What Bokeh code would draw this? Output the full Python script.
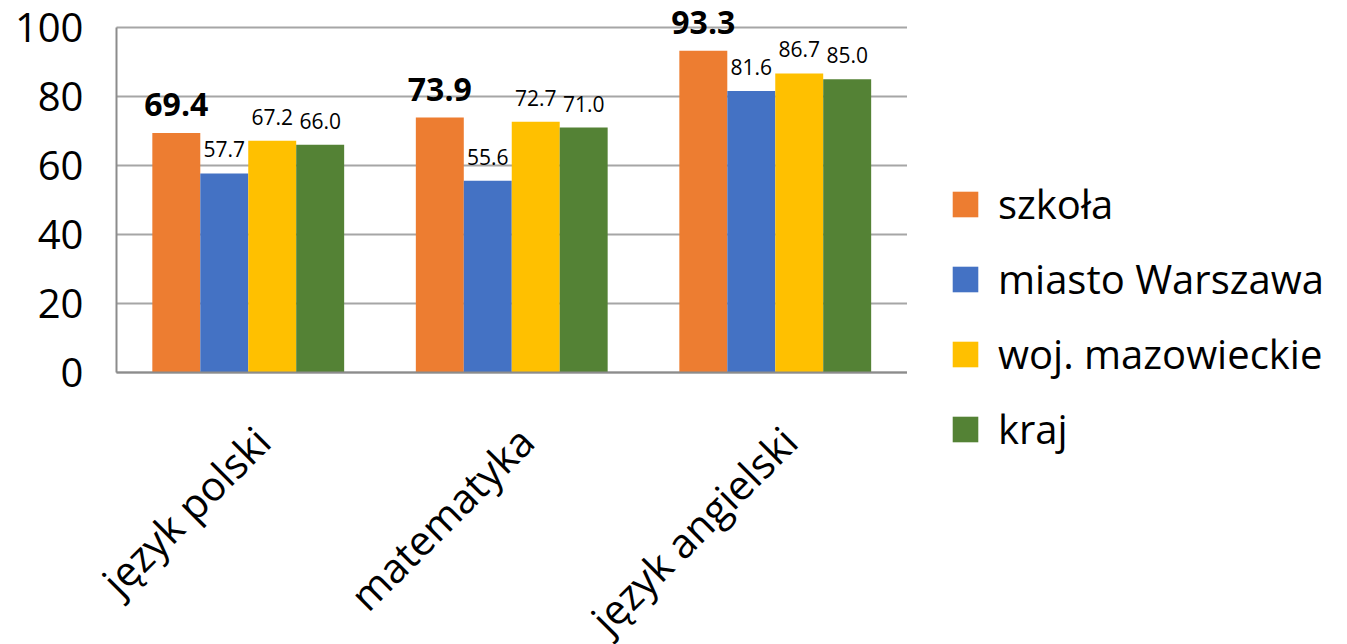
import math
from bokeh.plotting import figure
from bokeh.models import ColumnDataSource, Legend, LegendItem, LabelSet, Range1d
from bokeh.core.properties import value
from bokeh.transform import dodge
from bokeh.embed import file_html
from bokeh.resources import INLINE

categories = ["język polski", "matematyka", "język angielski"]
series_names = ["szkoła", "miasto Warszawa", "woj. mazowieckie", "kraj"]
szkola = [69.4, 73.9, 93.3]
warszawa = [57.7, 55.6, 81.6]
mazowieckie = [67.2, 72.7, 86.7]
kraj = [66.0, 71.0, 85.0]
y_ticks = [0, 20, 40, 60, 80, 100]
y_tick_labels = ["0", "20", "40", "60", "80", "100"]

colors = ["#ED7D31", "#4472C4", "#FFC000", "#548235"]
offsets = [-0.273, -0.091, 0.091, 0.273]
FONT = "Open Sans"
GRID = "#A6A6A6"
AXIS = "#8C8C8C"

n = len(categories)
data = {"cat": categories, "xc": [i + 0.5 for i in range(n)], "y0": [0] * n,
        "s0": szkola, "s1": warszawa, "s2": mazowieckie, "s3": kraj}
for i, vals in enumerate([szkola, warszawa, mazowieckie, kraj]):
    data[f"t{i}"] = [f"{v:.1f}" for v in vals]
source = ColumnDataSource(data)
tick_source = ColumnDataSource({"x": [0] * len(y_ticks), "y": y_ticks, "t": y_tick_labels})

# plotting area covers the whole canvas; category band starts at 116 px, 263.5 px per category,
# value axis: 0 at 372 px, 3.45 px per unit
p = figure(x_range=Range1d(-0.4402, 4.6717), y_range=Range1d(-78.84, 107.83),
           width=1347, height=644, output_backend="svg", toolbar_location=None,
           x_axis_location=None, y_axis_location=None,
           min_border_left=0, min_border_right=0, min_border_top=0, min_border_bottom=0)
p.outline_line_color = None
p.background_fill_color = "white"
p.xgrid.visible = False
p.ygrid.visible = False

# horizontal gridlines across the category area
p.segment(x0=[0] * len(y_ticks), x1=[n] * len(y_ticks), y0=y_ticks, y1=y_ticks,
          line_color=GRID, line_width=2)

renderers = []
for i in range(4):
    r = p.vbar(x=dodge("xc", offsets[i]), top=f"s{i}", bottom=0, width=0.182,
               source=source, fill_color=colors[i], line_color=None)
    renderers.append(r)
    if i == 0:
        lab = LabelSet(x=dodge("xc", offsets[i]), y=f"s{i}", text=f"t{i}",
                       source=source, text_align="center", text_baseline="bottom",
                       y_offset=17, text_font=value(FONT), text_font_size="32px",
                       text_font_style="bold", text_color="black")
    else:
        lab = LabelSet(x=dodge("xc", offsets[i]), y=f"s{i}", text=f"t{i}",
                       source=source, text_align="center", text_baseline="bottom",
                       y_offset=16, text_font=value(FONT), text_font_size="21px", text_color="black")
    p.add_layout(lab)

# axis lines
p.segment(x0=[0], x1=[n], y0=[0], y1=[0], line_color=AXIS, line_width=2)
p.segment(x0=[0], x1=[0], y0=[y_ticks[0]], y1=[y_ticks[-1]], line_color=AXIS, line_width=2)

# value tick labels
p.add_layout(LabelSet(x="x", y="y", text="t", source=tick_source, text_align="right",
                      text_baseline="middle", x_offset=-33, text_font=value(FONT),
                      text_font_size="40px", text_color="black"))

# category labels, rotated 45 degrees
p.add_layout(LabelSet(x="xc", y="y0", text="cat", source=source, angle=math.pi / 4,
                      text_align="right", text_baseline="middle", x_offset=14, y_offset=-61,
                      text_font=value(FONT), text_font_size="41px", text_color="black"))

legend = Legend(items=[LegendItem(label=series_names[i], renderers=[renderers[i]]) for i in range(4)],
                location=(949, 188), glyph_width=32, glyph_height=32, label_standoff=17,
                spacing=20, padding=0, margin=0, border_line_color=None,
                background_fill_alpha=0, label_text_font=FONT, label_text_font_size="40px",
                label_text_color="black")
p.add_layout(legend)

open("out.html", "w").write(file_html(p, INLINE))
